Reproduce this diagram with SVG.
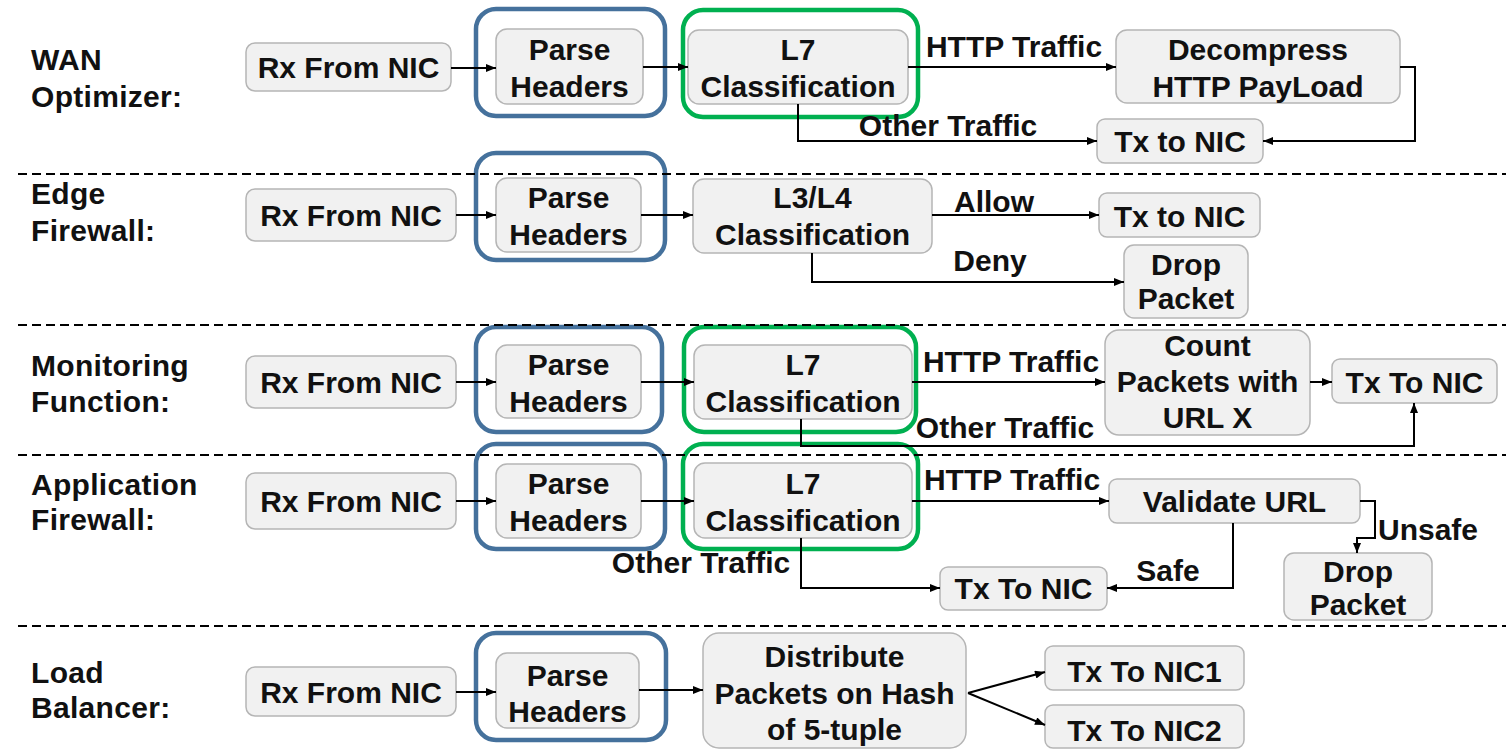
<svg xmlns="http://www.w3.org/2000/svg" width="1506" height="749" viewBox="0 0 1506 749">
  <style>
    .box { fill: #f1f1f1; stroke: #b5b5b5; stroke-width: 1.5; }
    .blue { fill: none; stroke: #45719c; stroke-width: 4.5; }
    .green { fill: none; stroke: #00b050; stroke-width: 4.5; }
    text { font-family: 'Liberation Sans', Arial, sans-serif; font-weight: bold; font-size: 30px; fill: #111; }
    .t, .e { text-anchor: middle; }
    .lbl { font-size: 30px; letter-spacing: 0.3px; }
    .arr { fill: none; stroke: #000; stroke-width: 2; marker-end: url(#ah); }
    .sep { stroke: #000; stroke-width: 2; stroke-dasharray: 9 5; }
  </style>
  <defs>
    <marker id="ah" viewBox="0 0 10 8" refX="10" refY="4" markerWidth="11" markerHeight="8" markerUnits="userSpaceOnUse" orient="auto">
      <path d="M0,0 L10,4 L0,8 Z" fill="#000"/>
    </marker>
  </defs>

  <!-- row titles -->
  <g id="titles">
    <text class="lbl" x="31" y="70">WAN</text>
    <text class="lbl" x="31" y="107">Optimizer:</text>
    <text class="lbl" x="31" y="204">Edge</text>
    <text class="lbl" x="31" y="241">Firewall:</text>
    <text class="lbl" x="31" y="376">Monitoring</text>
    <text class="lbl" x="31" y="412">Function:</text>
    <text class="lbl" x="31" y="495">Application</text>
    <text class="lbl" x="31" y="530">Firewall:</text>
    <text class="lbl" x="31" y="683">Load</text>
    <text class="lbl" x="31" y="718">Balancer:</text>
  </g>

  <!-- WAN optimizer -->
  <g id="wan-rx"><rect class="box" x="246" y="43" width="205" height="48" rx="9"/><text class="t" x="348.5" y="78">Rx From NIC</text></g>
  <g id="wan-parse"><rect class="box" x="496" y="29" width="147" height="75" rx="11"/><text class="t" x="569.5" y="60">Parse</text><text class="t" x="569.5" y="97">Headers</text></g>
  <g id="wan-l7"><rect class="box" x="688" y="30" width="220" height="74" rx="11"/><text class="t" x="798" y="60">L7</text><text class="t" x="798" y="97">Classification</text></g>
  <g id="wan-decomp"><rect class="box" x="1116" y="30" width="284" height="73" rx="11"/><text class="t" x="1258" y="60">Decompress</text><text class="t" x="1258" y="97">HTTP PayLoad</text></g>
  <g id="wan-tx"><rect class="box" x="1097" y="119" width="166" height="44" rx="8"/><text class="t" x="1180" y="152">Tx to NIC</text></g>

  <!-- Edge firewall -->
  <g id="edge-rx"><rect class="box" x="246" y="189" width="210" height="52" rx="9"/><text class="t" x="351" y="226">Rx From NIC</text></g>
  <g id="edge-parse"><rect class="box" x="496" y="178" width="145" height="74" rx="11"/><text class="t" x="568.5" y="208">Parse</text><text class="t" x="568.5" y="245">Headers</text></g>
  <g id="edge-l34"><rect class="box" x="693" y="179" width="239" height="74" rx="11"/><text class="t" x="812.5" y="208">L3/L4</text><text class="t" x="812.5" y="245">Classification</text></g>
  <g id="edge-tx"><rect class="box" x="1099" y="193" width="161" height="44" rx="8"/><text class="t" x="1179.5" y="227">Tx to NIC</text></g>
  <g id="edge-drop"><rect class="box" x="1124" y="245" width="124" height="73" rx="10"/><text class="t" x="1186" y="275">Drop</text><text class="t" x="1186" y="309">Packet</text></g>

  <!-- Monitoring function -->
  <g id="mon-rx"><rect class="box" x="246" y="356" width="210" height="52" rx="9"/><text class="t" x="351" y="393">Rx From NIC</text></g>
  <g id="mon-parse"><rect class="box" x="496" y="345" width="145" height="73" rx="11"/><text class="t" x="568.5" y="375">Parse</text><text class="t" x="568.5" y="412">Headers</text></g>
  <g id="mon-l7"><rect class="box" x="694" y="345" width="218" height="74" rx="11"/><text class="t" x="803" y="375">L7</text><text class="t" x="803" y="412">Classification</text></g>
  <g id="mon-count"><rect class="box" x="1105" y="330" width="205" height="105" rx="14"/><text class="t" x="1207.5" y="356">Count</text><text class="t" x="1207.5" y="392">Packets with</text><text class="t" x="1207.5" y="428">URL X</text></g>
  <g id="mon-tx"><rect class="box" x="1332" y="359" width="165" height="44" rx="8"/><text class="t" x="1414.5" y="393">Tx To NIC</text></g>

  <!-- Application firewall -->
  <g id="app-rx"><rect class="box" x="246" y="473" width="210" height="56" rx="9"/><text class="t" x="351" y="512">Rx From NIC</text></g>
  <g id="app-parse"><rect class="box" x="496" y="464" width="145" height="74" rx="11"/><text class="t" x="568.5" y="494">Parse</text><text class="t" x="568.5" y="531">Headers</text></g>
  <g id="app-l7"><rect class="box" x="694" y="463" width="218" height="75" rx="11"/><text class="t" x="803" y="494">L7</text><text class="t" x="803" y="531">Classification</text></g>
  <g id="app-validate"><rect class="box" x="1109" y="479" width="251" height="44" rx="8"/><text class="t" x="1234.5" y="512">Validate URL</text></g>
  <g id="app-drop"><rect class="box" x="1284" y="553" width="148" height="67" rx="10"/><text class="t" x="1358" y="582">Drop</text><text class="t" x="1358" y="615">Packet</text></g>
  <g id="app-tx"><rect class="box" x="940" y="567" width="167" height="43" rx="8"/><text class="t" x="1023.5" y="599">Tx To NIC</text></g>

  <!-- Load balancer -->
  <g id="lb-rx"><rect class="box" x="246" y="667" width="210" height="49" rx="9"/><text class="t" x="351" y="703">Rx From NIC</text></g>
  <g id="lb-parse"><rect class="box" x="496" y="653" width="143" height="75" rx="11"/><text class="t" x="567.5" y="686">Parse</text><text class="t" x="567.5" y="722">Headers</text></g>
  <g id="lb-dist"><rect class="box" x="703" y="633" width="263" height="115" rx="16"/><text class="t" x="834.5" y="667">Distribute</text><text class="t" x="834.5" y="704">Packets on Hash</text><text class="t" x="834.5" y="740">of 5-tuple</text></g>
  <g id="lb-nic1"><rect class="box" x="1045" y="646" width="199" height="44" rx="8"/><text class="t" x="1144.5" y="682">Tx To NIC1</text></g>
  <g id="lb-nic2"><rect class="box" x="1045" y="705" width="199" height="43" rx="8"/><text class="t" x="1144.5" y="741">Tx To NIC2</text></g>

  <!-- shared-stage outlines -->
  <g id="parse-outlines">
    <rect class="blue" x="476" y="9" width="189" height="107" rx="20"/>
    <rect class="blue" x="476" y="153" width="189" height="107" rx="20"/>
    <rect class="blue" x="476" y="327" width="186" height="105" rx="20"/>
    <rect class="blue" x="476" y="444" width="189" height="105" rx="20"/>
    <rect class="blue" x="476" y="633" width="190" height="107" rx="20"/>
  </g>
  <g id="l7-outlines">
    <rect class="green" x="683" y="10" width="235" height="107" rx="20"/>
    <rect class="green" x="684" y="327" width="232" height="105" rx="20"/>
    <rect class="green" x="683" y="444" width="235" height="105" rx="20"/>
  </g>

  <!-- connectors -->
  <g id="connectors">
    <!-- WAN optimizer -->
    <line class="arr" x1="451" y1="68" x2="496" y2="68"/>
    <line class="arr" x1="643" y1="67" x2="688" y2="67"/>
    <line class="arr" x1="908" y1="67" x2="1116" y2="67"/>
    <polyline class="arr" points="1400,67 1415,67 1415,141 1263,141"/>
    <polyline class="arr" points="798,104 798,141 1097,141"/>
    <!-- Edge firewall -->
    <line class="arr" x1="456" y1="215" x2="496" y2="215"/>
    <line class="arr" x1="641" y1="215" x2="693" y2="215"/>
    <line class="arr" x1="932" y1="215" x2="1099" y2="215"/>
    <polyline class="arr" points="812,253 812,282 1124,282"/>
    <!-- Monitoring function -->
    <line class="arr" x1="456" y1="382" x2="496" y2="382"/>
    <line class="arr" x1="641" y1="382" x2="694" y2="382"/>
    <line class="arr" x1="912" y1="382" x2="1105" y2="382"/>
    <line class="arr" x1="1310" y1="382" x2="1332" y2="382"/>
    <polyline class="arr" points="801,419 801,446 1414,446 1414,403"/>
    <!-- Application firewall -->
    <line class="arr" x1="456" y1="501" x2="496" y2="501"/>
    <line class="arr" x1="641" y1="501" x2="694" y2="501"/>
    <line class="arr" x1="912" y1="501" x2="1109" y2="501"/>
    <polyline class="arr" points="1360,501 1375,501 1375,538 1357,538 1357,553"/>
    <polyline class="arr" points="1233,523 1233,588 1107,588"/>
    <polyline class="arr" points="801,538 801,588 940,588"/>
    <!-- Load balancer -->
    <line class="arr" x1="456" y1="692" x2="496" y2="692"/>
    <line class="arr" x1="639" y1="690" x2="703" y2="690"/>
    <line class="arr" x1="968" y1="693" x2="1045" y2="672"/>
    <line class="arr" x1="968" y1="693" x2="1045" y2="725"/>
  </g>

  <!-- connector labels -->
  <g id="edge-labels">
    <text class="e" x="1014" y="57">HTTP Traffic</text>
    <text class="e" x="948" y="136">Other Traffic</text>
    <text class="e" x="994" y="212">Allow</text>
    <text class="e" x="990" y="271">Deny</text>
    <text class="e" x="1011" y="372">HTTP Traffic</text>
    <text class="e" x="1005" y="438">Other Traffic</text>
    <text class="e" x="1012" y="490">HTTP Traffic</text>
    <text class="e" x="1428" y="540">Unsafe</text>
    <text class="e" x="1168" y="581">Safe</text>
    <text class="e" x="701" y="573">Other Traffic</text>
  </g>

  <!-- row separators -->
  <g id="separators">
    <line class="sep" x1="18" y1="174" x2="1506" y2="174"/>
    <line class="sep" x1="18" y1="325" x2="1506" y2="325"/>
    <line class="sep" x1="18" y1="455" x2="1506" y2="455"/>
    <line class="sep" x1="18" y1="626" x2="1506" y2="626"/>
  </g>
</svg>
